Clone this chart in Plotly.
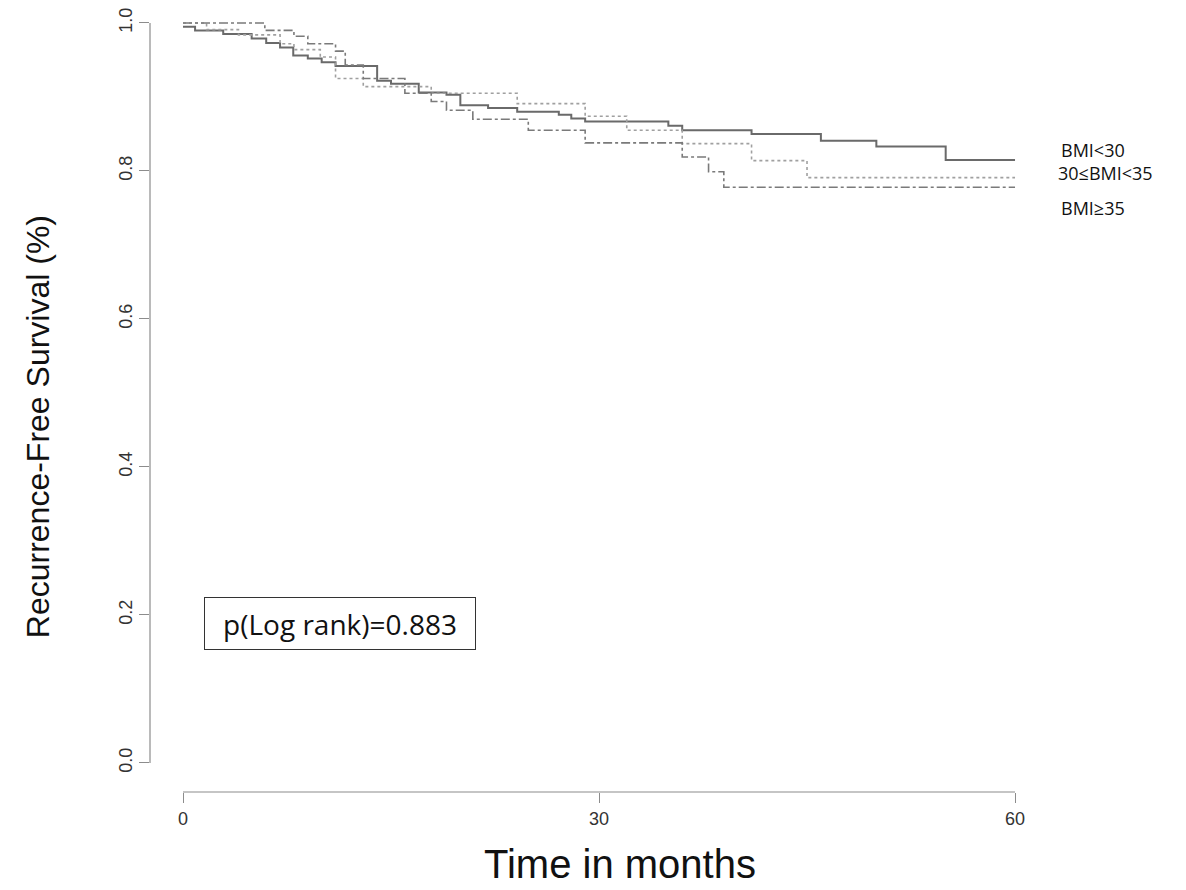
import plotly.graph_objects as go

# ---- data ----
t_bmi_lt30 = [0, 0.87, 2.9, 4.95, 6.0, 7.0, 7.95, 9.0, 10.0, 11.0, 14.0, 15.0, 17.0, 19.0, 20.0,
              22.0, 24.1, 27.1, 28.0, 29.0, 35.0, 36.0, 41.0, 46.0, 50.0, 55.0, 60]
s_bmi_lt30 = [0.995, 0.990, 0.985, 0.979, 0.973, 0.967, 0.956, 0.952, 0.947, 0.942, 0.922, 0.918,
              0.906, 0.903, 0.889, 0.885, 0.880, 0.876, 0.871, 0.867, 0.861, 0.855, 0.850, 0.841,
              0.833, 0.815, 0.815]

t_bmi_30_35 = [0, 1.7, 4.0, 7.0, 8.0, 9.9, 11.0, 13.0, 17.9, 24.1, 29.0, 32.0, 36.0, 41.0, 45.0, 60]
s_bmi_30_35 = [1.0, 0.991, 0.984, 0.972, 0.964, 0.954, 0.925, 0.914, 0.905, 0.891, 0.874, 0.855,
               0.837, 0.814, 0.791, 0.791]

t_bmi_ge35 = [0, 5.9, 8.0, 9.0, 11.0, 11.7, 13.0, 16.0, 17.9, 19.0, 20.9, 24.9, 29.0, 36.0, 37.9, 39.0, 60]
s_bmi_ge35 = [1.0, 0.990, 0.982, 0.972, 0.962, 0.943, 0.925, 0.905, 0.894, 0.882, 0.870, 0.855,
              0.838, 0.819, 0.799, 0.778, 0.778]

group_labels = ["BMI<30", "30\u2264BMI<35", "BMI\u226535"]
label_y = [0.828, 0.797, 0.750]
label_x = [1.0335, 1.030, 1.0335]
x_ticks = [0, 30, 60]
y_ticks = [0.0, 0.2, 0.4, 0.6, 0.8, 1.0]
p_text = "p(Log rank)=0.883"

fig = go.Figure()
fig.add_trace(go.Scatter(x=t_bmi_lt30, y=s_bmi_lt30, mode="lines", line_shape="hv",
                         line=dict(color="#6a6a6a", width=2, dash="solid"), name=group_labels[0]))
fig.add_trace(go.Scatter(x=t_bmi_30_35, y=s_bmi_30_35, mode="lines", line_shape="hv",
                         line=dict(color="#a0a0a0", width=1.6, dash="dot"), name=group_labels[1]))
fig.add_trace(go.Scatter(x=t_bmi_ge35, y=s_bmi_ge35, mode="lines", line_shape="hv",
                         line=dict(color="#7a7a7a", width=1.6, dash="dashdot"), name=group_labels[2]))

# R-style axis lines spanning only the data range
fig.add_shape(type="line", xref="paper", yref="y", x0=0, x1=0, y0=0, y1=1,
              line=dict(color="#8c8c8c", width=1.2))
fig.add_shape(type="line", xref="x", yref="paper", x0=0, x1=60, y0=0, y1=0,
              line=dict(color="#8c8c8c", width=1.2))

for lab, xx, yy in zip(group_labels, label_x, label_y):
    fig.add_annotation(x=xx, y=yy, xref="paper", yref="y", text=lab, showarrow=False,
                       xanchor="left", yanchor="middle",
                       font=dict(family="Open Sans, Noto Sans, sans-serif", size=18, color="#111"))

fig.add_annotation(x=11.3, y=0.189, xref="x", yref="y", text=p_text, showarrow=False,
                   xanchor="center", yanchor="middle", width=270, height=51,
                   bordercolor="#333", borderwidth=1, borderpad=0, bgcolor="white",
                   font=dict(family="Open Sans, Noto Sans, sans-serif", size=28, color="#111"))

# axis titles
fig.add_annotation(x=-0.127, y=0.4698, xref="paper", yref="paper", text="Recurrence-Free Survival (%)",
                   textangle=-90, showarrow=False, xanchor="center", yanchor="middle",
                   font=dict(family="Liberation Sans, Arial, sans-serif", size=32, color="#111"))
fig.add_annotation(x=0.534, y=-0.0927, xref="paper", yref="paper", text="Time in months",
                   showarrow=False, xanchor="center", yanchor="middle",
                   font=dict(family="Liberation Sans, Arial, sans-serif", size=40, color="#111"))

# page body has an 8px margin: figure sized/offset so the plot lands where the reference has it
fig.update_layout(
    width=1178, height=882,
    margin=dict(l=142, r=156, t=7, b=98),
    paper_bgcolor="white", plot_bgcolor="white",
    showlegend=False,
    font=dict(family="Liberation Sans, Arial, sans-serif", color="#333"),
    xaxis=dict(range=[-2.38, 61.08], tickvals=x_ticks, ticktext=[str(v) for v in x_ticks],
               showgrid=False, zeroline=False, showline=False, automargin=False,
               ticks="outside", ticklen=10, tickcolor="#8c8c8c", tickwidth=1,
               ticklabeloverflow="allow",
               tickfont=dict(size=18, color="#333")),
    yaxis=dict(range=[-0.0392, 1.0108], tickvals=y_ticks, ticktext=[f"{v:.1f}" for v in y_ticks],
               showgrid=False, zeroline=False, showline=False, automargin=False,
               ticks="outside", ticklen=10, tickcolor="#8c8c8c", tickwidth=1, tickangle=-90,
               ticklabeloverflow="allow",
               tickfont=dict(size=18, color="#333")),
)

fig.write_html("out.html")
